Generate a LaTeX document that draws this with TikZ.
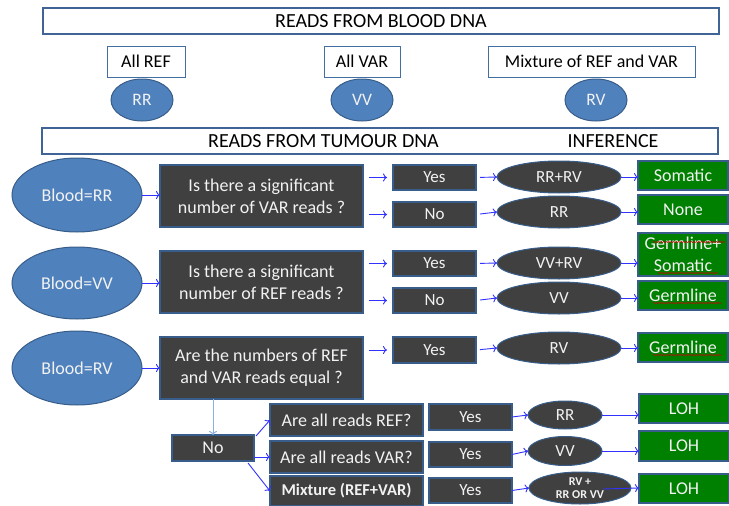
\documentclass[tikz,border=0pt]{standalone}
\usepackage{fontspec}
\setmainfont{Carlito}
\usetikzlibrary{arrows.meta,shapes.geometric,calc,decorations.pathmorphing}
\definecolor{hdrblue}{RGB}{65,100,150}
\definecolor{eblue}{RGB}{79,129,189}
\definecolor{eborder}{RGB}{56,93,138}
\definecolor{darkfill}{RGB}{64,64,64}
\definecolor{gfill}{RGB}{0,128,0}
\definecolor{arrblue}{RGB}{50,50,255}
\definecolor{lightarr}{RGB}{140,175,225}
\definecolor{lbltext}{RGB}{242,242,242}
\begin{document}
\begin{tikzpicture}[x=1pt,y=-1pt,
  every node/.style={inner sep=0pt, outer sep=0pt, font=\fontsize{18}{22}\selectfont, align=center},
  hdr/.style={draw=hdrblue, line width=2pt, fill=white, minimum height=26pt, minimum width=676pt},
  hdrtext/.style={font=\fontsize{20}{24}\selectfont},
  lbl/.style={draw=eblue!85!black, line width=0.8pt, fill=white, minimum height=31pt},
  bell/.style={ellipse, draw=eborder, line width=1pt, fill=eblue, text=lbltext},
  qbox/.style={rectangle, draw=eborder, line width=1.2pt, fill=darkfill, text=lbltext},
  ynbox/.style={qbox, minimum width=83pt, minimum height=25pt, font=\fontsize{17}{20}\selectfont},
  dell/.style={ellipse, draw=eborder, line width=1pt, fill=darkfill, text=lbltext, font=\fontsize{17}{20}\selectfont},
  gbox/.style={rectangle, draw=eborder, line width=1.2pt, fill=gfill, text=lbltext, minimum width=90pt},
  link/.style={draw=arrblue, line width=0.9pt, -{To[length=4pt,width=8pt]}},
  softlink/.style={draw=lightarr, line width=1pt, -{To[length=4pt,width=8pt]}},
  squig/.style={draw=red!80!black, line width=0.5pt, decorate, decoration={snake, amplitude=0.6pt, segment length=2.5pt}},
]
\useasboundingbox (0,0) rectangle (729,506);

% blood header
\node[hdr, hdrtext] (t1) at (381,21) {READS FROM BLOOD DNA};
\node[lbl, minimum width=78pt] (l1) at (146,61.5) {All REF};
\node[lbl, minimum width=76pt] (l2) at (362,61.5) {All VAR};
\node[lbl, minimum width=207pt] (l3) at (591.5,61.5) {Mixture of REF and VAR};
\node[bell, minimum width=62pt, minimum height=42pt, font=\fontsize{17.5}{20}\selectfont] (c1) at (142,100) {RR};
\node[bell, minimum width=62pt, minimum height=42pt, font=\fontsize{17.5}{20}\selectfont] (c2) at (362,100) {VV};
\node[bell, minimum width=62pt, minimum height=42pt, font=\fontsize{17.5}{20}\selectfont] (c3) at (596,100) {RV};

% tumour header
\node[hdr] (t2) at (380,141) {};
\node[hdrtext] (t2a) at (323.5,141) {READS FROM TUMOUR DNA};
\node[hdrtext] (t2b) at (613,141) {INFERENCE};

% blood ellipses
\node[bell, minimum width=130pt, minimum height=74pt] (b1) at (77,195) {Blood=RR};
\node[bell, minimum width=130pt, minimum height=72pt] (b2) at (77,283) {Blood=VV};
\node[bell, minimum width=130pt, minimum height=74pt] (b3) at (77,368) {Blood=RV};

% questions
\node[qbox, minimum width=203pt, minimum height=62pt] (q1) at (261.5,196) {Is there a significant\\number of VAR reads ?};
\node[qbox, minimum width=203pt, minimum height=62pt] (q2) at (261.5,282) {Is there a significant\\number of REF reads ?};
\node[qbox, minimum width=203pt, minimum height=62pt] (q3) at (261.5,368) {Are the numbers of REF\\and VAR reads equal ?};

% yes / no
\node[ynbox] (y1) at (434.5,177.5) {Yes};
\node[ynbox] (n1) at (434.5,214.5) {No};
\node[ynbox] (y2) at (434.5,263.5) {Yes};
\node[ynbox] (n2) at (434.5,300.5) {No};
\node[ynbox, minimum height=26pt] (y3) at (434.5,350) {Yes};

% genotype ellipses
\node[dell, minimum width=124pt, minimum height=32pt] (e1) at (559,177) {RR+RV};
\node[dell, minimum width=124pt, minimum height=32pt] (e2) at (559,212) {RR};
\node[dell, minimum width=124pt, minimum height=32pt] (e3) at (559,263) {VV+RV};
\node[dell, minimum width=124pt, minimum height=32pt] (e4) at (559,298) {VV};
\node[dell, minimum width=124pt, minimum height=32pt] (e5) at (559,348) {RV};

% inference
\node[gbox, minimum height=29pt] (g1) at (683,175.5) {Somatic};
\node[gbox, minimum height=29pt] (g2) at (683,209.5) {None};
\node[gbox, minimum height=43pt] (g3) at (683,254.5) {Germline+\\Somatic};
\node[gbox, minimum height=29pt] (g4) at (683,295.5) {Germline};
\node[gbox, minimum height=29pt] (g5) at (683,347.5) {Germline};

% bottom branch
\node[qbox, minimum width=82pt, minimum height=26pt] (no) at (213,448) {No};
\node[qbox, minimum width=153pt, minimum height=32pt] (a1) at (346.5,420) {Are all reads REF?};
\node[qbox, minimum width=153pt, minimum height=32pt] (a2) at (346.5,457) {Are all reads VAR?};
\node[qbox, minimum width=153pt, minimum height=30pt, font=\fontsize{16.5}{20}\selectfont\bfseries] (a3) at (346.5,491) {Mixture (REF+VAR)};
\node[ynbox, minimum height=26pt] (by1) at (470.5,417) {Yes};
\node[ynbox] (by2) at (470.5,454.5) {Yes};
\node[ynbox] (by3) at (470.5,490.5) {Yes};
\node[dell, minimum width=74pt, minimum height=28pt] (be1) at (565,415) {RR};
\node[dell, minimum width=74pt, minimum height=29pt] (be2) at (565,451) {VV};
\node[dell, minimum width=102pt, minimum height=32pt, font=\fontsize{12}{13.5}\selectfont\bfseries] (be3) at (580,488) {RV +\\RR OR VV};
\node[gbox, minimum height=29pt] (lo1) at (684,408.5) {LOH};
\node[gbox, minimum height=30pt] (lo2) at (684,446) {LOH};
\node[gbox, minimum height=29pt] (lo3) at (684,488.5) {LOH};

% connectors: blood -> question
\draw[link] (b1.east) -- (q1.west |- b1.east);
\draw[link] (b2.east) -- (q2.west |- b2.east);
\draw[link] (b3.east) -- (q3.west |- b3.east);
% question -> yes/no
\draw[link, shorten <=6pt, shorten >=6pt] (q1.east |- y1.west) -- (y1.west);
\draw[link, shorten <=6pt, shorten >=6pt] (q1.east |- n1.west) -- (n1.west);
\draw[link, shorten <=6pt, shorten >=6pt] (q2.east |- y2.west) -- (y2.west);
\draw[link, shorten <=6pt, shorten >=6pt] (q2.east |- n2.west) -- (n2.west);
\draw[link, shorten <=6pt, shorten >=6pt] (q3.east |- y3.west) -- (y3.west);
% yes/no -> ellipses
\draw[link, shorten <=4pt] (y1.east) -- (e1.west);
\draw[link, shorten <=4pt] (n1.east) -- (e2.west);
\draw[link, shorten <=4pt] (y2.east) -- (e3.west);
\draw[link, shorten <=4pt] (n2.east) -- (e4.west);
\draw[link, shorten <=4pt] (y3.east) -- (e5.west);
% ellipses -> inference
\draw[link] (e1.east) -- (g1.west |- e1.east);
\draw[link] (e2.east) -- (g2.west |- e2.east);
\draw[link] (e3.east) -- (g3.west |- e3.east);
\draw[link] (e4.east) -- (g4.west |- e4.east);
\draw[link] (e5.east) -- (g5.west |- e5.east);
% bottom branch
\draw[softlink] (q3.south -| no.north) -- (no.north);
\draw[link] ($(no.north east)+(2,1)$) -- (a1.west);
\draw[link] (no.east |- a2.west) -- (a2.west);
\draw[link] ($(no.south east)+(-6,2)$) -- (a3.west);
\draw[link] (by1.east) -- (be1.west);
\draw[link] (by2.east) -- (be2.west);
\draw[link] (by3.east) -- (be3.west);
\draw[link] (be1.east) -- (lo1.west |- be1.east);
\draw[link] (be2.east) -- (lo2.west |- be2.east);
\draw[link] ($(be3.center)+(23,1)$) -- (lo3.west |- be3.center);

% spell-check underlines
\draw[squig] (653,242) -- (725,242);
\draw[squig] (658,273) -- (718,273);
\draw[squig] (653,303) -- (721,303);
\draw[squig] (653,355) -- (721,355);
\end{tikzpicture}
\end{document}
